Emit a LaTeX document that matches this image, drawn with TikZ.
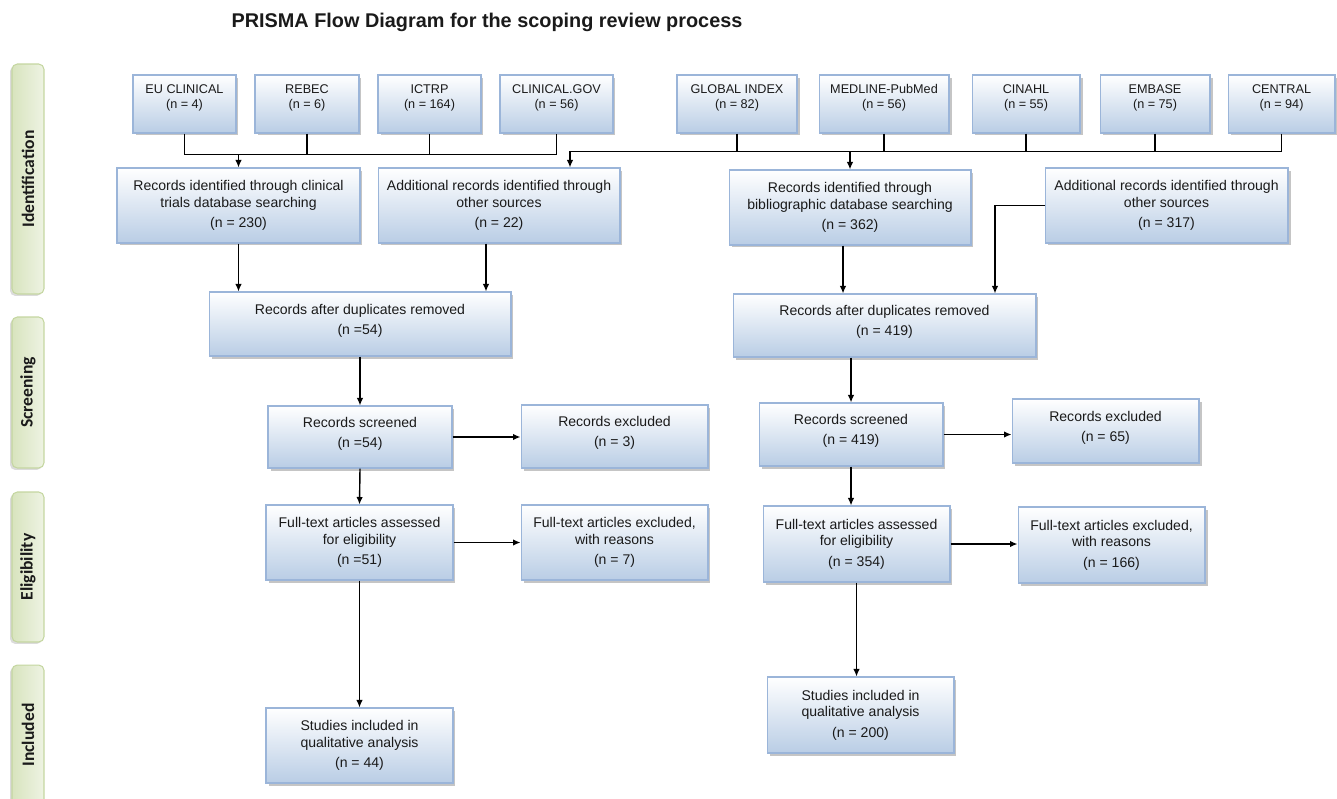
\documentclass[tikz,border=0pt]{standalone}
\usepackage{fontspec}
\setmainfont{Liberation Sans}
\newfontfamily\phasefont{Carlito}
\usetikzlibrary{arrows.meta, shadows, calc}
\definecolor{boxBottom}{HTML}{B9CDE5}
\definecolor{boxLine}{HTML}{9BB5D9}
\definecolor{phaseTop}{HTML}{EEF3E3}
\definecolor{phaseBottom}{HTML}{D8E4BE}
\definecolor{phaseLine}{HTML}{C4D6A0}
\definecolor{dark}{HTML}{1A1A1A}
\tikzset{
  flowbox/.style={rectangle, draw=boxLine, line width=0.6pt, top color=white, bottom color=boxBottom,
                  drop shadow={shadow xshift=0.05cm, shadow yshift=-0.05cm, fill=black!45, opacity=0.5},
                  text=dark, align=center, inner sep=2pt, font=\fontsize{8}{9.5}\selectfont},
  srcbox/.style={flowbox, font=\fontsize{7.2}{8.6}\selectfont, minimum height=1.16cm},
  phase/.style={rectangle, rounded corners=3pt, draw=phaseLine, line width=0.6pt,
                left color=phaseBottom, right color=phaseTop, rotate=90, minimum height=0.64cm,
                drop shadow={shadow xshift=-0.04cm, shadow yshift=-0.04cm, fill=black!35, opacity=0.4},
                text=dark, font=\phasefont\bfseries\fontsize{10}{12}\selectfont},
  link/.style={draw=black, line width=0.8pt},
  arr/.style={link, -{Latex[length=1.5mm, width=1.3mm]}},
}

\begin{document}
\begin{tikzpicture}[x=0.02cm, y=-0.02cm]
  \useasboundingbox (0,0) rectangle (1337,798);

  % --- title and phase strips ---
  \node[font=\bfseries\fontsize{11.3}{13.5}\selectfont, text=dark] (title) at (487,22) {PRISMA Flow Diagram for the scoping review process};
  \node[phase, minimum width=4.60cm] (ident)  at (28,179)   {Identification};
  \node[phase, minimum width=3.02cm] (screen) at (28,392.5) {Screening};
  \node[phase, minimum width=3.00cm] (elig)   at (28,567)   {Eligibility};
  \node[phase, minimum width=2.80cm] (incl)   at (28,735)   {Included};

  % --- registries (left) ---
  \node[srcbox, minimum width=2.06cm] (eu)      at (184.5,104) {EU CLINICAL\\(n = 4)\\\mbox{}};
  \node[srcbox, minimum width=2.08cm] (rebec)   at (307,104)   {REBEC\\(n = 6)\\\mbox{}};
  \node[srcbox, minimum width=2.06cm] (ictrp)   at (429.5,104) {ICTRP\\(n = 164)\\\mbox{}};
  \node[srcbox, minimum width=2.26cm] (clingov) at (556.5,104) {CLINICAL.GOV\\(n = 56)\\\mbox{}};

  % --- bibliographic databases (right) ---
  \node[srcbox, minimum width=2.40cm] (gindex)  at (737,104)    {GLOBAL INDEX\\(n = 82)\\\mbox{}};
  \node[srcbox, minimum width=2.60cm] (medline) at (884,104)    {MEDLINE-PubMed\\(n = 56)\\\mbox{}};
  \node[srcbox, minimum width=2.16cm] (cinahl)  at (1026,104)   {CINAHL\\(n = 55)\\\mbox{}};
  \node[srcbox, minimum width=2.20cm] (embase)  at (1155,104)   {EMBASE\\(n = 75)\\\mbox{}};
  \node[srcbox, minimum width=2.14cm] (central) at (1281.5,104) {CENTRAL\\(n = 94)\\\mbox{}};

  % --- left flow: clinical trials ---
  \node[flowbox, minimum width=4.86cm, minimum height=1.50cm] (clinrec)  at (238.5,205.5) {Records identified through clinical\\trials database searching\\[2pt](n = 230)};
  \node[flowbox, minimum width=4.84cm, minimum height=1.50cm] (addleft)  at (499,205.5)   {Additional records identified through\\other sources\\[2pt](n = 22)};
  \node[flowbox, minimum width=6.04cm, minimum height=1.28cm] (dupleft)  at (360,324)     {Records after duplicates removed\\[2pt](n =54)\\[-4pt]\mbox{}};
  \node[flowbox, minimum width=3.68cm, minimum height=1.24cm] (scrleft)  at (360,437)     {Records screened\\[2pt](n =54)\\[-4pt]\mbox{}};
  \node[flowbox, minimum width=3.74cm, minimum height=1.26cm] (excleft)  at (614.5,436.5) {Records excluded\\[2pt](n = 3)\\[-4pt]\mbox{}};
  \node[flowbox, minimum width=3.74cm, minimum height=1.50cm] (ftleft)   at (359.5,542.5) {Full-text articles assessed\\for eligibility\\[2pt](n =51)};
  \node[flowbox, minimum width=3.74cm, minimum height=1.50cm] (ftexleft) at (614.5,542.5) {Full-text articles excluded,\\with reasons\\[2pt](n = 7)};
  \node[flowbox, minimum width=3.74cm, minimum height=1.50cm] (incleft)  at (359.5,745.5) {Studies included in\\qualitative analysis\\[2pt](n = 44)};

  % --- right flow: bibliographic ---
  \node[flowbox, minimum width=4.84cm, minimum height=1.50cm] (biblio)    at (850,207.5)    {Records identified through\\bibliographic database searching\\[2pt](n = 362)};
  \node[flowbox, minimum width=4.86cm, minimum height=1.50cm] (addright)  at (1166.5,205.5) {Additional records identified through\\other sources\\[2pt](n = 317)};
  \node[flowbox, minimum width=6.06cm, minimum height=1.26cm] (dupright)  at (884.5,325.5)  {Records after duplicates removed\\[2pt](n = 419)\\[-4pt]\mbox{}};
  \node[flowbox, minimum width=3.68cm, minimum height=1.26cm] (scrright)  at (851,434.5)    {Records screened\\[2pt](n = 419)\\[-4pt]\mbox{}};
  \node[flowbox, minimum width=3.74cm, minimum height=1.28cm] (excright)  at (1105.5,431)   {Records excluded\\[2pt](n = 65)\\[-4pt]\mbox{}};
  \node[flowbox, minimum width=3.74cm, minimum height=1.52cm] (ftright)   at (856.5,544)    {Full-text articles assessed\\for eligibility\\[2pt](n = 354)};
  \node[flowbox, minimum width=3.74cm, minimum height=1.52cm] (ftexright) at (1111.5,545)   {Full-text articles excluded,\\with reasons\\[2pt](n = 166)};
  \node[flowbox, minimum width=3.74cm, minimum height=1.52cm] (incright)  at (860.5,715)    {Studies included in\\qualitative analysis\\[2pt](n = 200)};

  % --- registries merge into clinical records ---
  \draw[link] (eu.south) -- ++(0,21) -| (clingov.south);
  \draw[link] (rebec.south) -- ++(0,21);
  \draw[link] (ictrp.south) -- ++(0,21);
  \draw[arr] ([yshift=-0.42cm]eu.south -| clinrec.north) -- (clinrec.north);

  % --- databases merge into bibliographic records (and the left extra sources) ---
  \draw[arr] (central.south) -- ++(0,18) -| ([xshift=1.42cm]addleft.north);
  \draw[link] (gindex.south) -- ++(0,18);
  \draw[link] (medline.south) -- ++(0,18);
  \draw[link] (cinahl.south) -- ++(0,18);
  \draw[link] (embase.south) -- ++(0,18);
  \draw[arr] ([yshift=-0.36cm]gindex.south -| biblio.north) -- (biblio.north);

  % --- left flow ---
  \draw[arr] (clinrec.south) -- (clinrec.south |- dupleft.north);
  \draw[arr] ([xshift=-0.26cm]addleft.south) -- ([xshift=-0.26cm]addleft.south |- dupleft.north);
  \draw[arr] (dupleft.south) -- (scrleft.north);
  \draw[arr] (scrleft.east) -- (scrleft.east -| excleft.west);
  \draw[arr] (scrleft.south) -- (ftleft.north);
  \draw[arr] (ftleft.east) -- (ftleft.east -| ftexleft.west);
  \draw[arr] (ftleft.south) -- (incleft.north);

  % --- right flow ---
  \draw[arr] ([xshift=-0.14cm]biblio.south) -- ([xshift=-0.14cm]biblio.south |- dupright.north);
  \draw[arr] (addright.west) -| ([xshift=2.21cm]dupright.north);
  \draw[arr] (dupright.south -| scrright.north) -- (scrright.north);
  \draw[arr] (scrright.east) -- (scrright.east -| excright.west);
  \draw[arr] (scrright.south) -- (scrright.south |- ftright.north);
  \draw[arr] (ftright.east) -- (ftright.east -| ftexright.west);
  \draw[arr] (ftright.south) -- (ftright.south |- incright.north);
\end{tikzpicture}
\end{document}
